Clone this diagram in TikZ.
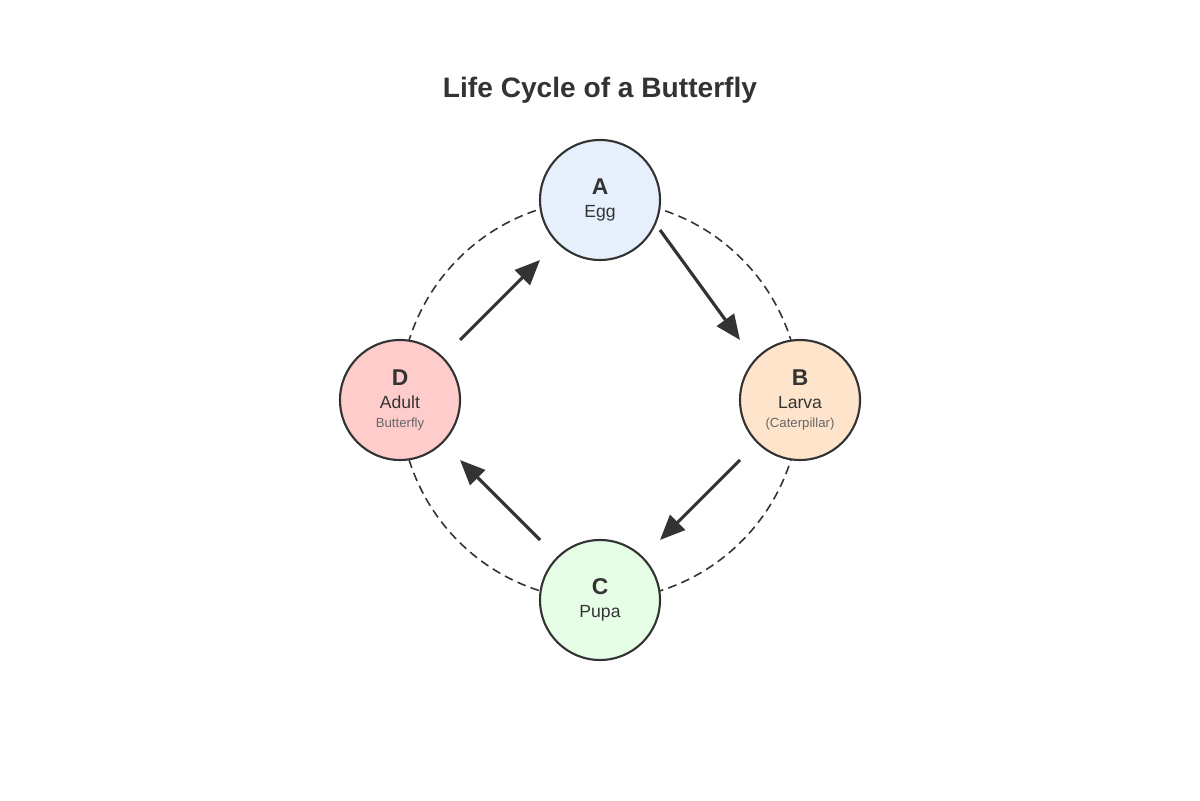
\documentclass[tikz,border=0pt]{standalone}
\usepackage{fontspec}
\setmainfont{Liberation Sans}
\usetikzlibrary{arrows.meta}
\definecolor{ink}{HTML}{333333}
\definecolor{eggc}{HTML}{E6F0FD}
\definecolor{larvac}{HTML}{FFE4CC}
\definecolor{pupac}{HTML}{E6FDE6}
\definecolor{adultc}{HTML}{FFCCCC}
\begin{document}
\begin{tikzpicture}[
	stage/.style={circle, draw=ink, line width=1.2pt, minimum size=2.4cm, inner sep=0pt, align=center, text=ink},
	cycle arrow/.style={draw=ink, line width=1.8pt, -{Triangle[length=0.5cm,width=0.42cm]}}]
	\useasboundingbox (0,0) rectangle (24,16);
	\node[text=ink, font=\fontsize{16}{19}\selectfont\bfseries] (title) at (12,14.2) {Life Cycle of a Butterfly};

	\draw[ink, line width=0.9pt, dash pattern=on 5pt off 3pt] (12,8) circle (4cm);

	\node[stage, fill=eggc] (a) at (12,12) {{\fontsize{13}{15}\selectfont\bfseries A}\\[1pt]{\fontsize{10}{12}\selectfont Egg}};
	\node[stage, fill=larvac] (b) at (16,8) {{\fontsize{13}{15}\selectfont\bfseries B}\\[1pt]{\fontsize{10}{12}\selectfont Larva}\\[-1pt]{\fontsize{7.5}{9}\selectfont\color{ink!75}(Caterpillar)}};
	\node[stage, fill=pupac] (c) at (12,4) {{\fontsize{13}{15}\selectfont\bfseries C}\\[1pt]{\fontsize{10}{12}\selectfont Pupa}};
	\node[stage, fill=adultc] (d) at (8,8) {{\fontsize{13}{15}\selectfont\bfseries D}\\[1pt]{\fontsize{10}{12}\selectfont Adult}\\[-1pt]{\fontsize{7.5}{9}\selectfont\color{ink!75}Butterfly}};

	% arrow ends
	\coordinate (ab1) at (13.2,11.4);
	\coordinate (ab2) at (14.8,9.2);
	\coordinate (bc1) at (14.8,6.8);
	\coordinate (bc2) at (13.2,5.2);
	\coordinate (cd1) at (10.8,5.2);
	\coordinate (cd2) at (9.2,6.8);
	\coordinate (da1) at (9.2,9.2);
	\coordinate (da2) at (10.8,10.8);

	\draw[cycle arrow] (ab1) -- (ab2);
	\draw[cycle arrow] (bc1) -- (bc2);
	\draw[cycle arrow] (cd1) -- (cd2);
	\draw[cycle arrow] (da1) -- (da2);
\end{tikzpicture}
\end{document}
